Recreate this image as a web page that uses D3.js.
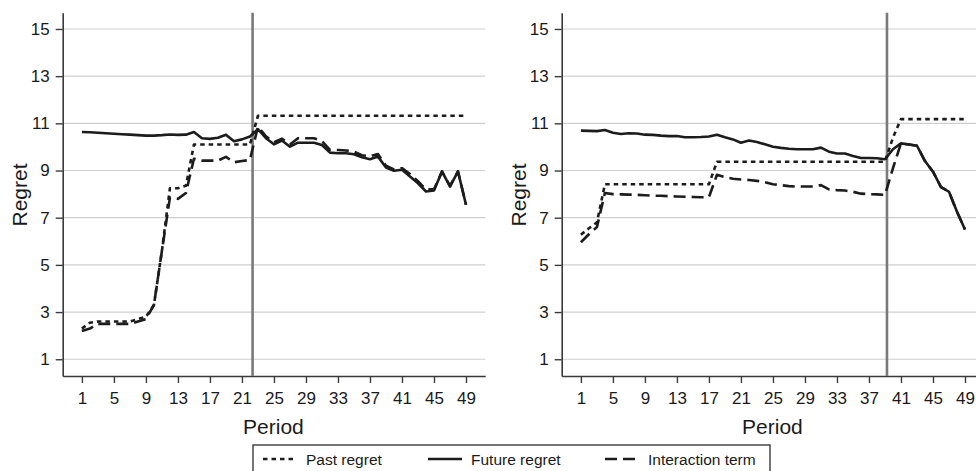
<!DOCTYPE html>
<html>
<head>
<meta charset="utf-8">
<script src="https://cdn.jsdelivr.net/npm/d3@7"></script>
<style>
  body { margin: 0; background: #fff; }
  svg { display: block; font-family: "Liberation Sans", Arial, sans-serif; }
</style>
</head>
<body>
<svg id="chart" width="976" height="471"></svg>
<script>
// periods on the x axis
var periods = [1,2,3,4,5,6,7,8,9,10,11,12,13,14,15,16,17,18,19,20,21,22,23,24,25,
  26,27,28,29,30,31,32,33,34,35,36,37,38,39,40,41,42,43,44,45,46,47,48,49];
var xTicks = [1,5,9,13,17,21,25,29,33,37,41,45,49];
var yTicks = [1,3,5,7,9,11,13,15];

// left panel
var leftPast = [2.3,2.55,2.6,2.6,2.6,2.6,2.6,2.7,2.8,3.3,
  5.6,8.25,8.25,8.35,10.1,10.1,10.1,10.1,10.1,10.1,
  10.1,10.1,11.32,11.32,11.32,11.32,11.32,11.32,11.32,11.32,
  11.32,11.32,11.32,11.32,11.32,11.32,11.32,11.32,11.32,11.32,
  11.32,11.32,11.32,11.32,11.32,11.32,11.32,11.32,11.32];
var leftFuture = [10.63,10.62,10.6,10.58,10.56,10.54,10.52,10.5,10.48,10.48,
  10.5,10.53,10.51,10.52,10.63,10.37,10.34,10.39,10.52,10.24,
  10.32,10.44,10.75,10.37,10.11,10.27,10.01,10.18,10.18,10.18,
  10.08,9.76,9.73,9.73,9.69,9.56,9.48,9.59,9.13,8.99,
  9.03,8.75,8.46,8.11,8.15,8.96,8.32,8.96,7.55];
var leftInteraction = [2.2,2.3,2.5,2.5,2.5,2.5,2.5,2.6,2.7,3.3,
  5.6,7.85,7.8,8.05,9.5,9.42,9.42,9.42,9.58,9.35,
  9.4,9.45,10.86,10.45,10.2,10.35,10.1,10.37,10.37,10.37,
  10.25,9.88,9.87,9.85,9.8,9.65,9.6,9.7,9.2,9.05,
  9.1,8.85,8.55,8.2,8.2,8.96,8.35,8.96,7.55];
var leftBreak = 22.33;

// right panel
var rightPast = [6.28,6.55,6.8,8.42,8.42,8.42,8.42,8.42,8.42,8.42,
  8.42,8.42,8.42,8.42,8.42,8.42,8.42,9.37,9.37,9.37,
  9.37,9.37,9.37,9.37,9.37,9.37,9.37,9.37,9.37,9.37,
  9.37,9.37,9.37,9.37,9.37,9.37,9.37,9.37,9.37,10.4,
  11.18,11.18,11.18,11.18,11.18,11.18,11.18,11.18,11.18];
var rightFuture = [10.69,10.68,10.67,10.72,10.6,10.55,10.58,10.57,10.52,10.51,
  10.48,10.46,10.46,10.41,10.41,10.42,10.44,10.52,10.41,10.32,
  10.18,10.27,10.21,10.11,10.01,9.96,9.92,9.9,9.9,9.9,
  9.97,9.8,9.72,9.72,9.62,9.53,9.53,9.52,9.48,9.9,
  10.15,10.1,10.05,9.4,8.95,8.3,8.1,7.25,6.5];
var rightInteraction = [5.96,6.3,6.6,8.05,8.0,7.99,7.98,7.97,7.95,7.93,
  7.93,7.91,7.9,7.89,7.88,7.87,7.87,8.82,8.72,8.65,
  8.62,8.6,8.56,8.5,8.42,8.38,8.34,8.32,8.32,8.32,
  8.38,8.2,8.17,8.15,8.1,8.02,8.0,7.99,7.97,9.1,
  10.15,10.1,10.05,9.4,8.95,8.3,8.1,7.25,6.5];
var rightBreak = 39.25;

var seriesNames = ["Past regret", "Future regret", "Interaction term"];
var dashes = ["4.5,4", null, "12,6"];

var svg = d3.select("#chart");
var ink = "#1c1c1c";

function drawPanel(left, past, future, inter, brk) {
  var top = 12.7, bottom = 376, width = 422.5;
  var x = d3.scaleLinear().domain([-1.4, 51.4]).range([left, left + width]);
  var y = d3.scaleLinear().domain([0.29, 15.69]).range([bottom, top]);
  var g = svg.append("g");

  // grid
  g.selectAll("line.grid").data(yTicks).enter().append("line")
    .attr("x1", left).attr("x2", left + width)
    .attr("y1", function(d) { return y(d); })
    .attr("y2", function(d) { return y(d); })
    .attr("stroke", "#cfcfcf").attr("stroke-width", 1.2);

  // axes
  var yAxis = g.append("g").attr("transform", "translate(" + left + ",0)")
    .call(d3.axisLeft(y).tickValues(yTicks).tickSize(7).tickPadding(6).tickSizeOuter(0));
  var xAxis = g.append("g").attr("transform", "translate(0," + bottom + ")")
    .call(d3.axisBottom(x).tickValues(xTicks).tickSize(7).tickPadding(9).tickSizeOuter(0));
  [xAxis, yAxis].forEach(function(a) {
    a.select(".domain").attr("stroke", "#3a3a3a").attr("stroke-width", 1.6);
    a.selectAll(".tick line").attr("stroke", "#3a3a3a").attr("stroke-width", 1.4);
    a.selectAll(".tick text").attr("fill", "#1a1a1a").style("font-size", "17px");
  });

  // vertical break line
  g.append("line")
    .attr("x1", x(brk)).attr("x2", x(brk))
    .attr("y1", top).attr("y2", bottom)
    .attr("stroke", "#7a7a7a").attr("stroke-width", 2.6);

  var line = d3.line()
    .x(function(d, i) { return x(periods[i]); })
    .y(function(d) { return y(d); });

  [past, future, inter].forEach(function(s, k) {
    g.append("path").datum(s)
      .attr("d", line)
      .attr("fill", "none")
      .attr("stroke", ink)
      .attr("stroke-width", 2.6)
      .attr("stroke-linejoin", "round")
      .attr("stroke-dasharray", dashes[k]);
  });

  // axis titles
  g.append("text")
    .attr("transform", "translate(" + (left - 36) + ",195) rotate(-90)")
    .attr("text-anchor", "middle")
    .attr("fill", "#1a1a1a")
    .style("font-size", "21px")
    .text("Regret");
  g.append("text")
    .attr("x", x(25) - 0.5).attr("y", 434)
    .attr("text-anchor", "middle")
    .attr("fill", "#1a1a1a")
    .style("font-size", "21px")
    .text("Period");
}

drawPanel(62.7, leftPast, leftFuture, leftInteraction, leftBreak);
drawPanel(561.7, rightPast, rightFuture, rightInteraction, rightBreak);

// legend
var legend = svg.append("g");
legend.append("rect")
  .attr("x", 253).attr("y", 445).attr("width", 517).attr("height", 30)
  .attr("fill", "#fff").attr("stroke", "#3a3a3a").attr("stroke-width", 1.4);
var legendX = [263, 428, 605];
seriesNames.forEach(function(name, k) {
  legend.append("line")
    .attr("x1", legendX[k]).attr("x2", legendX[k] + 34)
    .attr("y1", 459).attr("y2", 459)
    .attr("stroke", ink).attr("stroke-width", 2.4)
    .attr("stroke-dasharray", dashes[k]);
  legend.append("text")
    .attr("x", legendX[k] + 43).attr("y", 465)
    .attr("fill", "#1a1a1a")
    .style("font-size", "15.5px")
    .text(name);
});
</script>
</body>
</html>
